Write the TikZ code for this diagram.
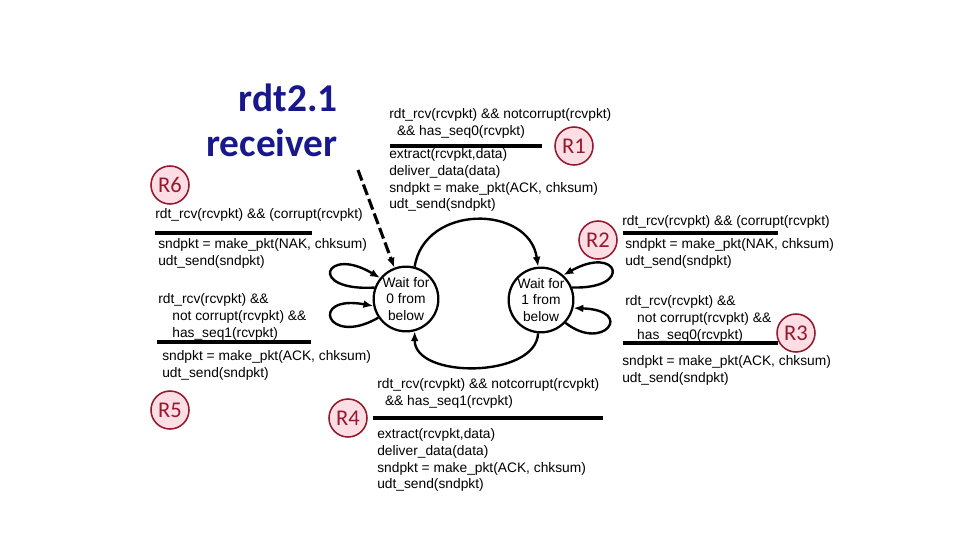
\documentclass[tikz,border=0pt]{standalone}
\usepackage{fontspec}
\setmainfont{Liberation Sans}
\newfontfamily\calfont{Carlito}
\usepackage{tikz}
\usetikzlibrary{arrows.meta,positioning,calc}
\definecolor{titleblue}{RGB}{24,24,140}
\definecolor{rred}{RGB}{150,25,45}
\definecolor{rpink}{RGB}{252,222,228}

\begin{document}
\begin{tikzpicture}[
    x=0.025cm, y=-0.025cm,
    state/.style={circle, draw, line width=1.6pt, inner sep=0pt, minimum size=46pt, align=center, font=\fontsize{9.8}{12}\selectfont},
    lbl/.style={anchor=north west, inner sep=0pt, align=left, font=\fontsize{9.8}{12}\selectfont},
    rmark/.style={circle, draw=rred, fill=rpink, line width=1.1pt, minimum size=0.95cm, inner sep=0pt, text=rred, font=\calfont\fontsize{16}{18}\selectfont},
    arr/.style={-{Latex[length=7pt,width=5.5pt]}, line width=1.7pt},
    bar/.style={line width=2.2pt}
]
\useasboundingbox (0,0) rectangle (960,540);

\node[anchor=south east, inner sep=0pt, align=right, text=titleblue, font=\calfont\bfseries\fontsize{28}{32}\selectfont] (title) at (338,157) {rdt2.1\\receiver};

\node[state] (s0) at (406,299) {Wait for\\0 from\\below};
\node[state] (s1) at (541,300) {Wait for\\1 from\\below};

\node[rmark] (r1) at (574,146) {R1};
\node[rmark] (r2) at (598,240) {R2};
\node[rmark] (r3) at (796,333) {R3};
\node[rmark] (r4) at (348,418) {R4};
\node[rmark] (r5) at (170,410) {R5};
\node[rmark] (r6) at (170,185) {R6};

\node[lbl] (c1) at (389,108) {rdt\_rcv(rcvpkt) \&\& notcorrupt(rcvpkt)\\\hspace*{5.5pt}\&\& has\_seq0(rcvpkt)};
\node[lbl] (a1) at (389,148) {extract(rcvpkt,data)\\deliver\_data(data)\\sndpkt = make\_pkt(ACK, chksum)\\udt\_send(sndpkt)};
\draw[bar] (390,146) -- (542,146);

\node[lbl] (c6) at (155,208) {rdt\_rcv(rcvpkt) \&\& (corrupt(rcvpkt)};
\node[lbl] (a6) at (158,238) {sndpkt = make\_pkt(NAK, chksum)\\udt\_send(sndpkt)};
\draw[bar] (155,233) -- (312,233);

\node[lbl] (c5) at (158,293) {rdt\_rcv(rcvpkt) \&\&\\\hspace*{10pt}not corrupt(rcvpkt) \&\&\\\hspace*{10pt}has\_seq1(rcvpkt)};
\node[lbl] (a5) at (162,350) {sndpkt = make\_pkt(ACK, chksum)\\udt\_send(sndpkt)};
\draw[bar] (157,342) -- (311,342);

\node[lbl] (c2) at (622,215) {rdt\_rcv(rcvpkt) \&\& (corrupt(rcvpkt)};
\node[lbl] (a2) at (625,238) {sndpkt = make\_pkt(NAK, chksum)\\udt\_send(sndpkt)};
\draw[bar] (623,233) -- (778,233);

\node[lbl] (c3) at (625,295) {rdt\_rcv(rcvpkt) \&\&\\\hspace*{8.5pt}not corrupt(rcvpkt) \&\&\\\hspace*{8.5pt}has\_seq0(rcvpkt)};
\node[lbl] (a3) at (622,355) {sndpkt = make\_pkt(ACK, chksum)\\udt\_send(sndpkt)};
\draw[bar] (623,343) -- (778,343);

\node[lbl] (c4) at (377,378) {rdt\_rcv(rcvpkt) \&\& notcorrupt(rcvpkt)\\\hspace*{5.5pt}\&\& has\_seq1(rcvpkt)};
\node[lbl] (a4) at (377,428) {extract(rcvpkt,data)\\deliver\_data(data)\\sndpkt = make\_pkt(ACK, chksum)\\udt\_send(sndpkt)};
\draw[bar] (373,418) -- (603,418);

\coordinate (init) at (358,170);
\draw[arr, line width=2.2pt, dash pattern=on 8pt off 3pt] (init) -- (s0);

\draw[arr] (s0.75) .. controls +(10,-63) and +(-9,-62) .. (s1.95);
\draw[arr] (s1.265) .. controls +(-2,45) and +(0,48) .. (s0.285);
\draw[arr] (s0.160) .. controls +(-68,4) and +(-55,-33) .. (s0.141);
\draw[arr] (s0.214) .. controls +(-52,30) and +(-65,-12) .. (s0.192);
\draw[arr] (s1.22) .. controls +(62,2) and +(55,-31) .. (s1.48);
\draw[arr] (s1.317) .. controls +(38,30) and +(62,2) .. (s1.346);
\end{tikzpicture}
\end{document}
